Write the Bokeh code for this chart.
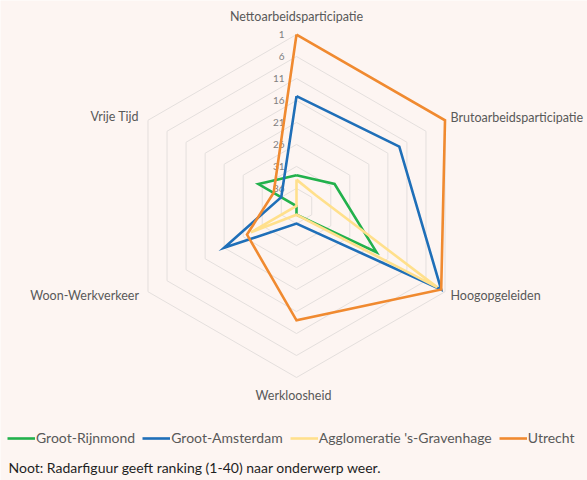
import numpy as np
from bokeh.plotting import figure
from bokeh.models import Range1d, Label, Legend, LegendItem
from bokeh.core.properties import value
from bokeh.embed import file_html
from bokeh.resources import INLINE

# ---------------- data ----------------
categories = ["Nettoarbeidsparticipatie", "Brutoarbeidsparticipatie", "Hoogopgeleiden",
              "Werkloosheid", "Woon-Werkverkeer", "Vrije Tijd"]
series_names = ["Groot-Rijnmond", "Groot-Amsterdam", "Agglomeratie 's-Gravenhage", "Utrecht"]
rijnmond = [33, 30, 19, 38, 40, 30]
amsterdam = [15, 13, 2, 36, 21, 36]
gravenhage = [34, 35, 3, 38, 28, 40]
utrecht = [1, 1, 2, 14, 27, 34]
tick_values = [1, 6, 11, 16, 21, 26, 31, 36]
tick_labels = ["1", "6", "11", "16", "21", "26", "31", "36"]
rank_min, rank_max = 1, 40
note_text = "Noot: Radarfiguur geeft ranking (1-40) naar onderwerp weer."

# ---------------- style / layout ----------------
colors = ["#22B14C", "#1F6FB8", "#FFE08C", "#F08A30"]
bg = "#FDF5F2"
grid_col = "#E4DFDD"
font = "Lato"
W, H = 587, 480
k = 4.397            # pixels per rank unit
cx, cy = 296, 205.5  # centre in screen px (from top-left)

p = figure(width=W, height=H, output_backend="svg", toolbar_location=None,
           x_range=Range1d(-cx / k, (W - cx) / k),
           y_range=Range1d(-(H - cy) / k, cy / k),
           min_border=0)
p.axis.visible = False
p.grid.visible = False
p.outline_line_color = None
p.background_fill_color = bg
p.border_fill_color = bg

n = len(categories)
angles = np.deg2rad(90 - 360.0 / n * np.arange(n))


def radius(rank):
    return rank_max - np.asarray(rank, dtype=float)


def to_xy(vals):
    r = radius(vals)
    x = r * np.cos(angles)
    y = r * np.sin(angles)
    return list(x) + [x[0]], list(y) + [y[0]]


# grid rings
for t in tick_values:
    xs, ys = to_xy([t] * n)
    p.line(xs, ys, line_color=grid_col, line_width=1)
R = radius(rank_min)

# tick labels on the top axis
p.text(x=[-12 / k] * len(tick_values), y=list(radius(tick_values)), text=tick_labels,
       text_align="right", text_baseline="middle", text_font=value(font),
       text_font_size="10px", text_color="#808080")

# series
renderers = []
for vals, c in zip([rijnmond, amsterdam, gravenhage, utrecht], colors):
    xs, ys = to_xy(vals)
    r = p.line(xs, ys, line_color=c, line_width=2.6, line_join="miter")
    renderers.append(r)

# category labels
ox = R * np.cos(angles)
oy = R * np.sin(angles)
offsets = [(0, 18, "center"), (5.5, 3, "left"), (5.5, -4, "left"),
           (-3, -18, "center"), (-9, -4, "right"), (-9, 4, "right")]
for i, (name, (dx, dy, al)) in enumerate(zip(categories, offsets)):
    p.text(x=[ox[i] + dx / k], y=[oy[i] + dy / k], text=[name], text_align=al,
           text_baseline="middle", text_font=value(font), text_font_size="12.5px",
           text_color="#595959")

# legend
legend = Legend(items=[LegendItem(label=s, renderers=[r]) for s, r in zip(series_names, renderers)],
                orientation="horizontal", location=(7, 34),
                background_fill_alpha=0, border_line_alpha=0, padding=0, margin=0,
                spacing=7, glyph_width=28, glyph_height=12, label_height=12,
                label_standoff=1, label_text_font=font, label_text_font_size="14px",
                label_text_color="#595959")
p.add_layout(legend, "center")

p.add_layout(Label(x=8, y=13, x_units="screen", y_units="screen", text=note_text,
                   text_font=font, text_font_size="14px", text_color="#1F1F1F",
                   text_baseline="middle"))

open("out.html", "w").write(file_html(p, INLINE))
